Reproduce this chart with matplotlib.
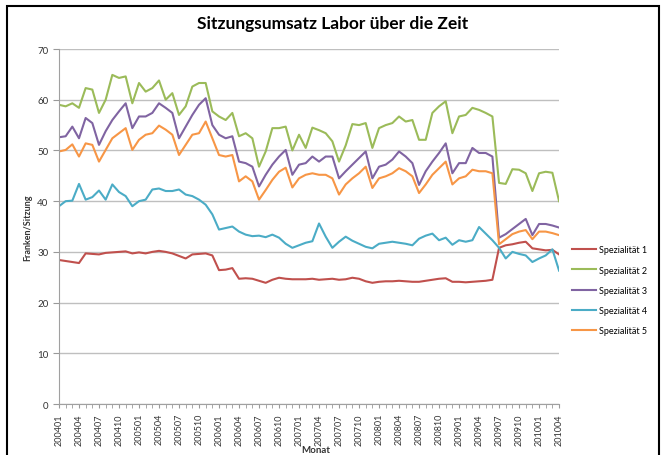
import matplotlib
matplotlib.use("Agg")
import matplotlib.pyplot as plt
from matplotlib.patches import Rectangle

"""Data: monthly session revenue per specialty, 2004-01 .. 2010-04"""
months = [f"{y}{m:02d}" for y in range(2004, 2011) for m in range(1, 13)][:76]

spez1 = [28.4, 28.2, 28.0, 27.8, 29.7, 29.6, 29.5, 29.8, 29.9, 30.0,
         30.1, 29.7, 29.9, 29.7, 30.0, 30.2, 30.0, 29.7, 29.2, 28.7,
         29.5, 29.6, 29.7, 29.3, 26.4, 26.5, 26.8, 24.7, 24.8, 24.7,
         24.3, 23.9, 24.5, 24.9, 24.7, 24.6, 24.6, 24.6, 24.7, 24.5,
         24.6, 24.7, 24.5, 24.6, 24.9, 24.7, 24.2, 23.9, 24.1, 24.2,
         24.2, 24.3, 24.2, 24.1, 24.1, 24.3, 24.5, 24.7, 24.8, 24.1,
         24.1, 24.0, 24.1, 24.2, 24.3, 24.5, 30.8, 31.3, 31.5, 31.8,
         32.0, 30.7, 30.5, 30.3, 30.4, 29.5]
spez2 = [59.0, 58.7, 59.3, 58.4, 62.3, 62.0, 57.4, 60.0, 64.9, 64.3,
         64.6, 59.3, 63.3, 61.6, 62.3, 63.8, 60.0, 61.3, 57.0, 58.7,
         62.6, 63.3, 63.3, 57.7, 56.7, 56.0, 57.4, 52.8, 53.4, 52.4,
         46.8, 49.8, 54.4, 54.4, 54.7, 50.0, 53.1, 50.5, 54.5, 54.0,
         53.4, 51.8, 47.8, 51.0, 55.2, 55.0, 55.4, 50.5, 54.4, 55.0,
         55.4, 56.7, 55.7, 56.0, 52.1, 52.1, 57.4, 58.7, 59.7, 53.4,
         56.7, 57.0, 58.4, 58.0, 57.4, 56.7, 43.6, 43.4, 46.3, 46.2,
         45.5, 42.0, 45.5, 45.8, 45.6, 40.0]
spez3 = [52.6, 52.8, 54.7, 52.4, 56.4, 55.4, 51.1, 53.8, 56.0, 57.7,
         59.3, 54.4, 56.7, 56.7, 57.4, 59.3, 58.4, 57.4, 52.4, 54.7,
         57.0, 59.0, 60.3, 55.0, 53.1, 52.4, 52.8, 47.8, 47.5, 46.8,
         42.9, 45.2, 47.2, 48.8, 50.1, 45.2, 47.2, 47.5, 48.8, 47.8,
         48.8, 48.8, 44.5, 45.9, 47.2, 48.5, 49.8, 44.5, 46.8, 47.2,
         48.2, 49.8, 48.8, 47.5, 43.2, 45.9, 47.8, 49.5, 51.4, 45.5,
         47.5, 47.5, 50.5, 49.5, 49.5, 48.8, 32.8, 33.5, 34.5, 35.5,
         36.5, 33.3, 35.5, 35.5, 35.2, 34.8]
spez4 = [39.0, 40.0, 40.1, 43.4, 40.3, 40.8, 42.1, 40.3, 43.3, 41.8,
         41.0, 39.0, 40.0, 40.3, 42.3, 42.5, 42.0, 42.0, 42.3, 41.3,
         41.0, 40.3, 39.3, 37.4, 34.4, 34.7, 35.0, 34.0, 33.4, 33.1,
         33.2, 32.9, 33.4, 32.8, 31.6, 30.8, 31.3, 31.8, 32.1, 35.6,
         33.0, 30.8, 32.0, 33.0, 32.2, 31.6, 31.0, 30.7, 31.6, 31.8,
         32.0, 31.8, 31.6, 31.3, 32.6, 33.2, 33.6, 32.3, 32.8, 31.4,
         32.3, 32.0, 32.3, 34.9, 33.6, 32.3, 30.8, 28.7, 30.0, 29.6,
         29.3, 28.0, 28.7, 29.3, 30.5, 26.3]
spez5 = [49.8, 50.1, 51.2, 48.8, 51.4, 51.1, 47.8, 50.1, 52.4, 53.4,
         54.4, 50.1, 52.1, 53.1, 53.4, 54.9, 54.1, 53.1, 49.1, 51.1,
         53.1, 53.4, 55.7, 52.4, 49.1, 48.8, 49.1, 43.9, 44.9, 43.9,
         40.3, 42.2, 44.2, 45.8, 46.6, 42.7, 44.5, 45.2, 45.5, 45.2,
         45.2, 44.5, 41.3, 43.3, 44.5, 45.5, 46.8, 42.6, 44.5, 44.9,
         45.5, 46.5, 45.9, 44.9, 41.6, 43.3, 45.2, 46.5, 47.8, 43.3,
         44.5, 44.9, 46.2, 45.9, 45.9, 45.5, 31.5, 32.5, 33.5, 34.0,
         34.3, 32.5, 34.0, 34.0, 33.7, 33.3]

names = ["Spezialität 1", "Spezialität 2", "Spezialität 3", "Spezialität 4", "Spezialität 5"]
colors = ["#C0504D", "#9BBB59", "#8064A2", "#4BACC6", "#F79646"]

plt.rcParams["font.family"] = ["Lato", "DejaVu Sans"]

fig = plt.figure(figsize=(6.65, 4.56), dpi=100)
ax = fig.add_axes([0.0887, 0.1118, 0.752, 0.7785])

x = list(range(len(months)))
for vals, name, col in zip([spez1, spez2, spez3, spez4, spez5], names, colors):
    ax.plot(x, vals, color=col, lw=1.5, label=name)

ax.set_xlim(0, len(months) - 1)
ax.set_ylim(0, 70)
ax.set_yticks(range(0, 71, 10))
ax.set_xticks(x[::3])
ax.set_xticklabels(months[::3], rotation=90, fontsize=6.5, color="#333333")
ax.set_xticks(x, minor=True)
ax.tick_params(axis="y", labelsize=7, colors="#333333", length=4, color="#999999")
ax.tick_params(axis="x", which="both", length=3, color="#999999", direction="out")
ax.grid(axis="y", color="#BFBFBF", lw=1)
ax.set_axisbelow(True)
for s in ["top", "right"]:
    ax.spines[s].set_visible(False)
for s in ["left", "bottom"]:
    ax.spines[s].set_color("#A0A0A0")

ax.set_ylabel("Franken/Sitzung", fontsize=6.5, fontweight="bold", color="#333333", labelpad=4)
fig.text(0.475, 0.002, "Monat", fontsize=7, fontweight="bold", color="#333333", ha="center", va="bottom")
fig.suptitle("Sitzungsumsatz Labor über die Zeit", x=0.5, y=0.965, fontsize=12.5, fontweight="bold")

ax.legend(loc="center left", bbox_to_anchor=(1.01, 0.32), frameon=False, fontsize=6.5,
          handlelength=2.6, labelspacing=1.25, handletextpad=0.4)

fig.patches.append(Rectangle((7 / 665, -0.05), 652 / 665, 1.05 - 7 / 456, transform=fig.transFigure,
                             fill=False, edgecolor="black", lw=1.5))

plt.savefig("out.png", dpi=100)
